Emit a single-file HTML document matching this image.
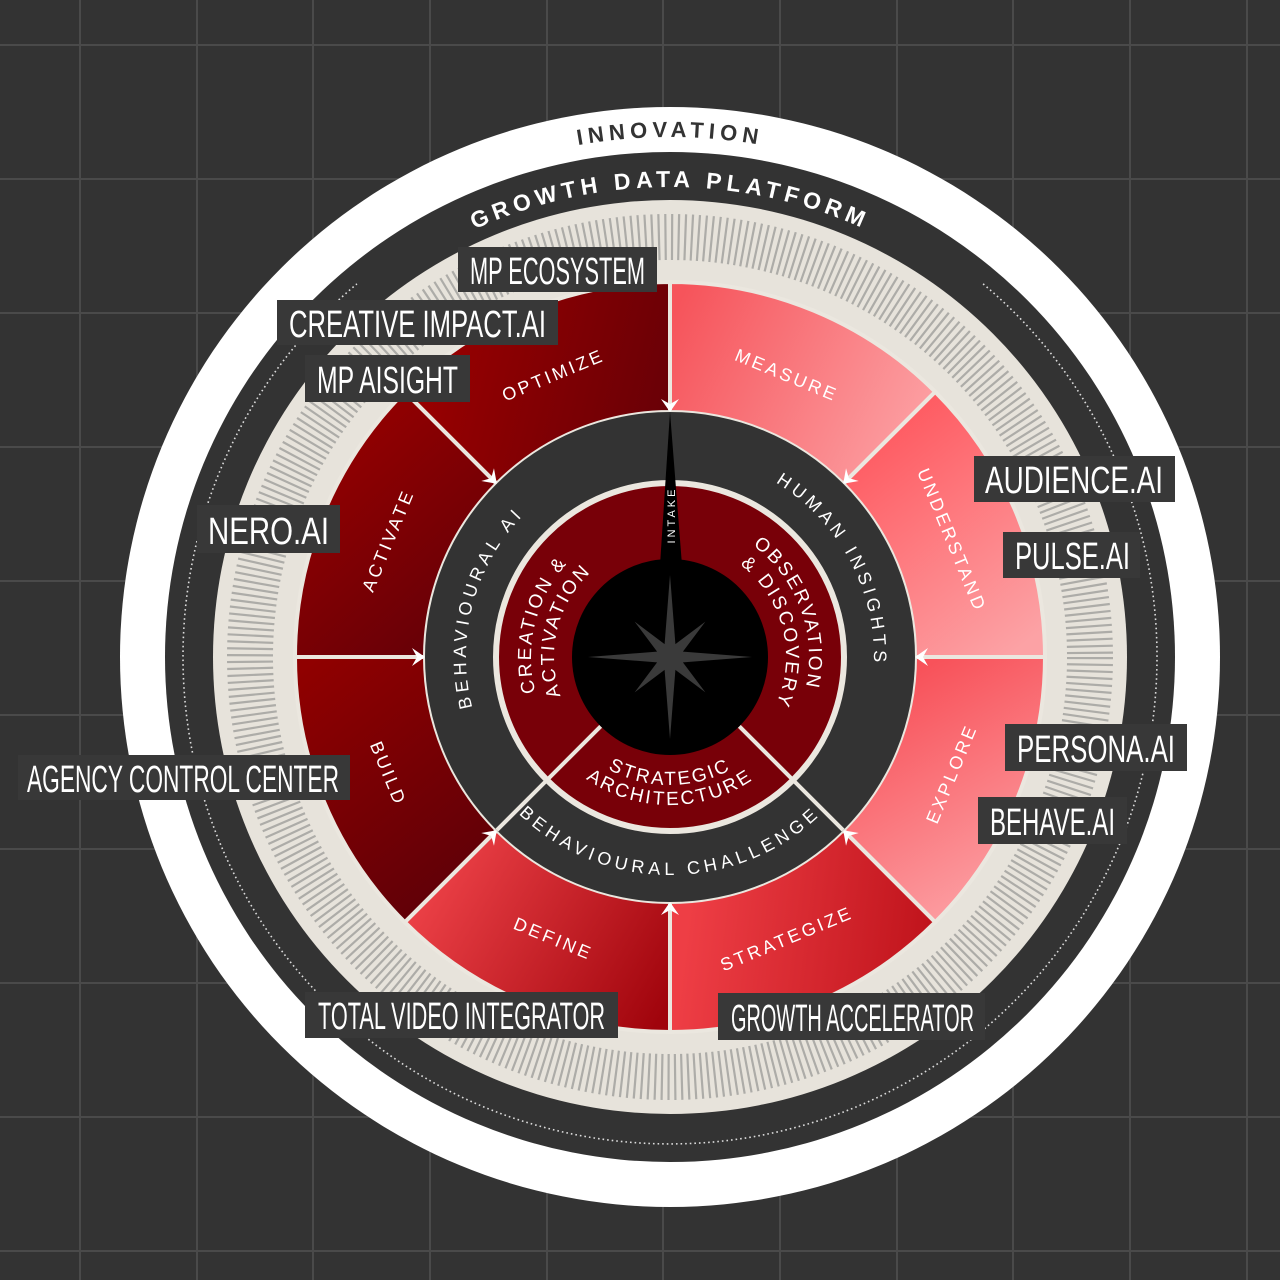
<!DOCTYPE html>
<html><head><meta charset="utf-8"><style>
html,body{margin:0;padding:0;background:#333;}
svg{display:block;}
.seg{font-family:"Liberation Sans",sans-serif;font-size:18px;letter-spacing:3px;fill:#fff;}
.ring{font-family:"Liberation Sans",sans-serif;font-size:18px;letter-spacing:4.5px;fill:#fff;}
.inn{font-family:"Liberation Sans",sans-serif;font-size:19px;letter-spacing:2.5px;fill:#fff;}
.box{font-family:"Liberation Sans",sans-serif;font-size:38px;fill:#fff;}
</style></head><body>
<svg width="1280" height="1280" viewBox="0 0 1280 1280" xmlns="http://www.w3.org/2000/svg">
<defs>
<linearGradient id="gM" gradientUnits="userSpaceOnUse" x1="680" y1="300" x2="930" y2="420"><stop offset="0" stop-color="#f6545b"/><stop offset="1" stop-color="#fca0a3"/></linearGradient>
<linearGradient id="gU" gradientUnits="userSpaceOnUse" x1="860" y1="420" x2="1030" y2="640"><stop offset="0" stop-color="#ff555c"/><stop offset="1" stop-color="#fca2a5"/></linearGradient>
<linearGradient id="gE" gradientUnits="userSpaceOnUse" x1="920" y1="670" x2="1040" y2="880"><stop offset="0" stop-color="#f8525a"/><stop offset="1" stop-color="#fca0a4"/></linearGradient>
<linearGradient id="gS" gradientUnits="userSpaceOnUse" x1="690" y1="900" x2="930" y2="930"><stop offset="0" stop-color="#ee3e45"/><stop offset="1" stop-color="#c0141c"/></linearGradient>
<linearGradient id="gD" gradientUnits="userSpaceOnUse" x1="420" y1="880" x2="660" y2="1020"><stop offset="0" stop-color="#ee4248"/><stop offset="1" stop-color="#a0040c"/></linearGradient>
<linearGradient id="gB" gradientUnits="userSpaceOnUse" x1="300" y1="670" x2="480" y2="900"><stop offset="0" stop-color="#900000"/><stop offset="1" stop-color="#5c0008"/></linearGradient>
<linearGradient id="gA" gradientUnits="userSpaceOnUse" x1="300" y1="450" x2="480" y2="650"><stop offset="0" stop-color="#960000"/><stop offset="1" stop-color="#600008"/></linearGradient>
<linearGradient id="gO" gradientUnits="userSpaceOnUse" x1="420" y1="360" x2="660" y2="420"><stop offset="0" stop-color="#9a0000"/><stop offset="1" stop-color="#6a0006"/></linearGradient>
<path id="cwText1" d="M670,1177 A520,520 0 1 1 670,137 A520,520 0 1 1 670,1177"/>
<path id="cwText2" d="M670,1127 A470,470 0 1 1 670,187 A470,470 0 1 1 670,1127"/>
<path id="cwRing" d="M670,861 A204,204 0 1 1 670,453 A204,204 0 1 1 670,861"/>
<path id="cwIn1" d="M670,796 A139,139 0 1 1 670,518 A139,139 0 1 1 670,796"/>
<path id="cwIn2" d="M670,773 A116,116 0 1 1 670,541 A116,116 0 1 1 670,773"/>
<path id="ccwRing" d="M670,439 A218,218 0 1 0 670,875 A218,218 0 1 0 670,439"/>
<path id="ccwIn1" d="M670,529 A128,128 0 1 0 670,785 A128,128 0 1 0 670,529"/>
<path id="ccwIn2" d="M670,509 A148,148 0 1 0 670,805 A148,148 0 1 0 670,509"/>
</defs>
<rect width="1280" height="1280" fill="#333"/>
<g stroke="#4a4a4a" stroke-width="2">
<line x1="80" y1="0" x2="80" y2="1280"/><line x1="197" y1="0" x2="197" y2="1280"/><line x1="313" y1="0" x2="313" y2="1280"/><line x1="430" y1="0" x2="430" y2="1280"/><line x1="547" y1="0" x2="547" y2="1280"/><line x1="663" y1="0" x2="663" y2="1280"/><line x1="780" y1="0" x2="780" y2="1280"/><line x1="897" y1="0" x2="897" y2="1280"/><line x1="1013" y1="0" x2="1013" y2="1280"/><line x1="1130" y1="0" x2="1130" y2="1280"/><line x1="1247" y1="0" x2="1247" y2="1280"/>
<line x1="0" y1="45" x2="1280" y2="45"/><line x1="0" y1="179" x2="1280" y2="179"/><line x1="0" y1="313" x2="1280" y2="313"/><line x1="0" y1="447" x2="1280" y2="447"/><line x1="0" y1="581" x2="1280" y2="581"/><line x1="0" y1="715" x2="1280" y2="715"/><line x1="0" y1="849" x2="1280" y2="849"/><line x1="0" y1="983" x2="1280" y2="983"/><line x1="0" y1="1117" x2="1280" y2="1117"/><line x1="0" y1="1251" x2="1280" y2="1251"/>
</g>
<circle cx="670" cy="657" r="550" fill="#fff"/>
<circle cx="670" cy="657" r="505" fill="#333"/>
<circle cx="670" cy="657" r="457" fill="#e7e3db"/>
<circle cx="670" cy="657" r="420" fill="none" stroke="#adaca8" stroke-width="46" stroke-dasharray="2.2 4.4"/>
<path d="M983.1,283.9 A487,487 0 1 1 356.9,283.9" fill="none" stroke="#ddd" stroke-width="1.6" stroke-dasharray="1.6 3"/>
<text font-family="Liberation Sans,sans-serif" font-size="22" font-weight="bold" letter-spacing="5" fill="#333" text-anchor="middle"><textPath href="#cwText1" startOffset="50%">INNOVATION</textPath></text>
<text font-family="Liberation Sans,sans-serif" font-size="23" font-weight="bold" letter-spacing="5" fill="#fff" text-anchor="middle"><textPath href="#cwText2" startOffset="50%">GROWTH DATA PLATFORM</textPath></text>
<g stroke="#ebe7df" stroke-width="4">
<path d="M670,282 A375,375 0 0 1 935.2,391.8 L843.2,483.8 A245,245 0 0 0 670,412 Z" fill="url(#gM)"/>
<path d="M935.2,391.8 A375,375 0 0 1 1045,657 L915,657 A245,245 0 0 0 843.2,483.8 Z" fill="url(#gU)"/>
<path d="M1045,657 A375,375 0 0 1 935.2,922.2 L843.2,830.2 A245,245 0 0 0 915,657 Z" fill="url(#gE)"/>
<path d="M935.2,922.2 A375,375 0 0 1 670,1032 L670,902 A245,245 0 0 0 843.2,830.2 Z" fill="url(#gS)"/>
<path d="M670,1032 A375,375 0 0 1 404.8,922.2 L496.8,830.2 A245,245 0 0 0 670,902 Z" fill="url(#gD)"/>
<path d="M404.8,922.2 A375,375 0 0 1 295,657 L425,657 A245,245 0 0 0 496.8,830.2 Z" fill="url(#gB)"/>
<path d="M295,657 A375,375 0 0 1 404.8,391.8 L496.8,483.8 A245,245 0 0 0 425,657 Z" fill="url(#gA)"/>
<path d="M404.8,391.8 A375,375 0 0 1 670,282 L670,412 A245,245 0 0 0 496.8,483.8 Z" fill="url(#gO)"/>
</g>
<circle cx="670" cy="657" r="245" fill="#333"/>
<circle cx="670" cy="657" r="174" fill="#780008" stroke="#ebe7df" stroke-width="6"/>
<g stroke="#ebe7df" stroke-width="4">
<line x1="739.3" y1="726.3" x2="843.2" y2="830.2"/>
<line x1="600.7" y1="726.3" x2="496.8" y2="830.2"/>
</g>
<circle cx="670" cy="657" r="98" fill="#000"/>
<polygon points="670,412 660,565 682,565" fill="#000"/>
<polygon points="670,575 675.4,644.1 705.4,621.6 682.9,651.6 752,657 682.9,662.4 705.4,692.4 675.4,669.9 670,739 664.6,669.9 634.6,692.4 657.1,662.4 588,657 657.1,651.6 634.6,621.6 664.6,644.1" fill="#3a3a3a"/>
<text transform="translate(675,515) rotate(-90)" font-family="Liberation Sans,sans-serif" font-size="11" letter-spacing="3" fill="#fff" text-anchor="middle">INTAKE</text>
<g fill="#fff">
<polygon points="0,0 -13,-9 -8,0 -13,9" transform="translate(670,412) rotate(90)"/>
<polygon points="0,0 -13,-9 -8,0 -13,9" transform="translate(843.2,483.8) rotate(135)"/>
<polygon points="0,0 -13,-9 -8,0 -13,9" transform="translate(915,657) rotate(180)"/>
<polygon points="0,0 -13,-9 -8,0 -13,9" transform="translate(843.2,830.2) rotate(225)"/>
<polygon points="0,0 -13,-9 -8,0 -13,9" transform="translate(670,902) rotate(270)"/>
<polygon points="0,0 -13,-9 -8,0 -13,9" transform="translate(496.8,830.2) rotate(315)"/>
<polygon points="0,0 -13,-9 -8,0 -13,9" transform="translate(425,657) rotate(0)"/>
<polygon points="0,0 -13,-9 -8,0 -13,9" transform="translate(496.8,483.8) rotate(45)"/>
</g>
<g class="seg" text-anchor="middle" dominant-baseline="central">
<text transform="translate(786.7,375.2) rotate(22.5)">MEASURE</text>
<text transform="translate(951.8,540.3) rotate(67.5)">UNDERSTAND</text>
<text transform="translate(951.8,773.7) rotate(-67.5)">EXPLORE</text>
<text transform="translate(786.7,938.8) rotate(-22.5)">STRATEGIZE</text>
<text transform="translate(553.3,938.8) rotate(22.5)">DEFINE</text>
<text transform="translate(388.2,773.7) rotate(67.5)">BUILD</text>
<text transform="translate(388.2,540.3) rotate(-67.5)">ACTIVATE</text>
<text transform="translate(553.3,375.2) rotate(-22.5)">OPTIMIZE</text>
</g>
<text class="ring" text-anchor="middle"><textPath href="#cwRing" startOffset="67.2%">HUMAN INSIGHTS</textPath></text>
<text class="ring" text-anchor="middle"><textPath href="#cwRing" startOffset="29.2%">BEHAVIOURAL AI</textPath></text>
<text class="ring" text-anchor="middle"><textPath href="#ccwRing" startOffset="50%">BEHAVIOURAL CHALLENGE</textPath></text>
<text class="inn" text-anchor="middle"><textPath href="#cwIn1" startOffset="28.9%">CREATION &amp;</textPath></text>
<text class="inn" text-anchor="middle"><textPath href="#cwIn2" startOffset="28.9%">ACTIVATION</textPath></text>
<text class="inn" text-anchor="middle"><textPath href="#cwIn1" startOffset="69.4%">OBSERVATION</textPath></text>
<text class="inn" text-anchor="middle"><textPath href="#cwIn2" startOffset="71.1%">&amp; DISCOVERY</textPath></text>
<text class="inn" text-anchor="middle"><textPath href="#ccwIn1" startOffset="50%">STRATEGIC</textPath></text>
<text class="inn" text-anchor="middle"><textPath href="#ccwIn2" startOffset="50%">ARCHITECTURE</textPath></text>
<g fill="#383838">
<rect x="458" y="247" width="199" height="45"/>
<rect x="277" y="300" width="281" height="45"/>
<rect x="305" y="355" width="165" height="47"/>
<rect x="197" y="505" width="143" height="48"/>
<rect x="18" y="755" width="332" height="45"/>
<rect x="305" y="992" width="313" height="46"/>
<rect x="718" y="993" width="267" height="47"/>
<rect x="974" y="456" width="201" height="46"/>
<rect x="1003" y="532" width="137" height="46"/>
<rect x="1005" y="724" width="182" height="47"/>
<rect x="978" y="797" width="149" height="47"/>
</g>
<g class="box">
<text x="470" y="284" textLength="175" lengthAdjust="spacingAndGlyphs">MP ECOSYSTEM</text>
<text x="289" y="337" textLength="257" lengthAdjust="spacingAndGlyphs">CREATIVE IMPACT.AI</text>
<text x="317" y="393" textLength="141" lengthAdjust="spacingAndGlyphs">MP AISIGHT</text>
<text x="208" y="544" textLength="121" lengthAdjust="spacingAndGlyphs">NERO.AI</text>
<text x="27" y="792" textLength="312" lengthAdjust="spacingAndGlyphs">AGENCY CONTROL CENTER</text>
<text x="318" y="1029" textLength="287" lengthAdjust="spacingAndGlyphs">TOTAL VIDEO INTEGRATOR</text>
<text x="731" y="1031" textLength="243" lengthAdjust="spacingAndGlyphs">GROWTH ACCELERATOR</text>
<text x="985" y="493" textLength="178" lengthAdjust="spacingAndGlyphs">AUDIENCE.AI</text>
<text x="1015" y="569" textLength="115" lengthAdjust="spacingAndGlyphs">PULSE.AI</text>
<text x="1017" y="762" textLength="158" lengthAdjust="spacingAndGlyphs">PERSONA.AI</text>
<text x="990" y="835" textLength="125" lengthAdjust="spacingAndGlyphs">BEHAVE.AI</text>
</g>
</svg>
</body></html>
